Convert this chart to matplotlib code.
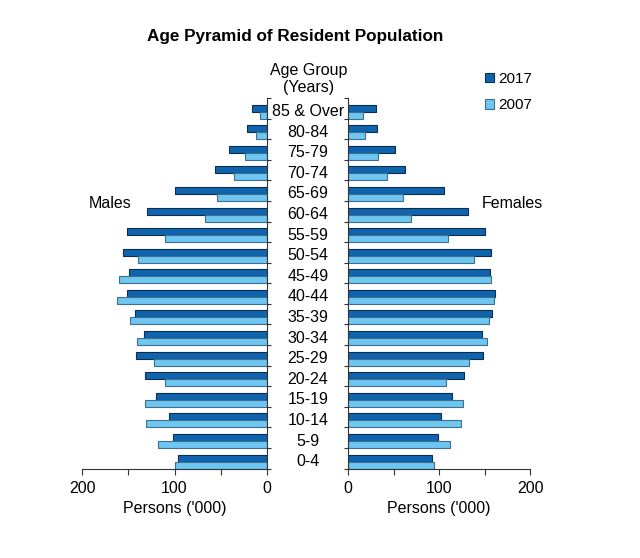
import matplotlib
matplotlib.use("Agg")
import matplotlib.pyplot as plt
import matplotlib.transforms as mtransforms
from matplotlib.patches import Patch
import numpy as np

plt.rcParams['font.family'] = ['Liberation Sans', 'DejaVu Sans']

age_groups = ["0-4", "5-9", "10-14", "15-19", "20-24", "25-29", "30-34", "35-39",
              "40-44", "45-49", "50-54", "55-59", "60-64", "65-69", "70-74",
              "75-79", "80-84", "85 & Over"]

males_2017 = [96, 102, 106, 120, 132, 142, 133, 143, 151, 149, 156, 151, 130, 99, 56, 41, 22, 16]
males_2007 = [99, 118, 131, 132, 110, 122, 141, 148, 162, 160, 140, 110, 67, 54, 36, 24, 12, 8]
females_2017 = [92, 99, 102, 114, 127, 148, 147, 158, 161, 156, 157, 151, 132, 105, 63, 52, 32, 31]
females_2007 = [95, 112, 124, 126, 108, 133, 153, 155, 160, 157, 139, 110, 69, 60, 43, 33, 19, 16]

series_labels = ["2017", "2007"]
xticks_major = [0, 100, 200]
xticks_minor = [50, 150]

c_dark = "#1064ae"
c_light = "#6ec6f2"
e_dark = "#0b2e50"
e_light = "#3f6f8a"
axis_col = "#333333"

fs = 11.5

fig = plt.figure(figsize=(6.4, 5.58), dpi=100)
axL = fig.add_axes([82/640, 89/558, 185/640, 371/558])
axR = fig.add_axes([348/640, 89/558, 182/640, 371/558])

y = np.arange(len(age_groups))
h = 0.34
for ax, v17, v07 in ((axL, males_2017, males_2007), (axR, females_2017, females_2007)):
    ax.barh(y + h/2, v17, height=h, color=c_dark, edgecolor=e_dark, linewidth=0.8, label=series_labels[0])
    ax.barh(y - h/2, v07, height=h, color=c_light, edgecolor=e_light, linewidth=0.8, label=series_labels[1])
    ax.set_xlim(0, 200)
    ax.set_ylim(-0.36, len(age_groups) - 0.34)
    ax.set_xticks(xticks_major)
    ax.set_xticks(xticks_minor, minor=True)
    ax.set_xticklabels([str(t) for t in xticks_major], fontsize=fs)
    ax.tick_params(axis='x', which='both', direction='out', length=4, width=0.8, color=axis_col, pad=4.5)
    ax.set_yticks(np.arange(len(age_groups) + 1) - 0.34)
    ax.set_yticklabels([])
    ax.spines['top'].set_visible(False)
    for s in ax.spines.values():
        s.set_color(axis_col)
        s.set_linewidth(0.8)
    ax.set_xlabel("Persons ('000)", fontsize=fs, labelpad=4)

axL.invert_xaxis()
axL.spines['left'].set_visible(False)
axL.yaxis.tick_right()
axL.tick_params(axis='y', direction='out', length=3, width=0.8, color=axis_col)
axR.spines['right'].set_visible(False)
axR.tick_params(axis='y', direction='out', length=3, width=0.8, color=axis_col)

trans = mtransforms.blended_transform_factory(fig.transFigure, axL.transData)
for i, lab in enumerate(age_groups):
    fig.text(308/640, i, lab, transform=trans, ha='center', va='center', fontsize=fs)

fig.text(309/640, 1 - 79/558, "Age Group\n(Years)", ha='center', va='center', fontsize=fs, linespacing=1.2)
fig.text(295/640, 1 - 37/558, "Age Pyramid of Resident Population", ha='center', va='center',
         fontsize=12.3, fontweight='bold')
fig.text(110/640, 1 - 204/558, "Males", ha='center', va='center', fontsize=fs)
fig.text(512/640, 1 - 204/558, "Females", ha='center', va='center', fontsize=fs)

handles = [Patch(facecolor=c_dark, edgecolor=e_dark, linewidth=0.8),
           Patch(facecolor=c_light, edgecolor=e_light, linewidth=0.8)]
fig.legend(handles, series_labels, loc='upper left', bbox_to_anchor=(479/640, 1 - 66/558),
           frameon=False, fontsize=11, handlelength=0.55, handleheight=0.55, handletextpad=0.3,
           labelspacing=0.8, borderaxespad=0)

fig.savefig("out.png", dpi=100)
